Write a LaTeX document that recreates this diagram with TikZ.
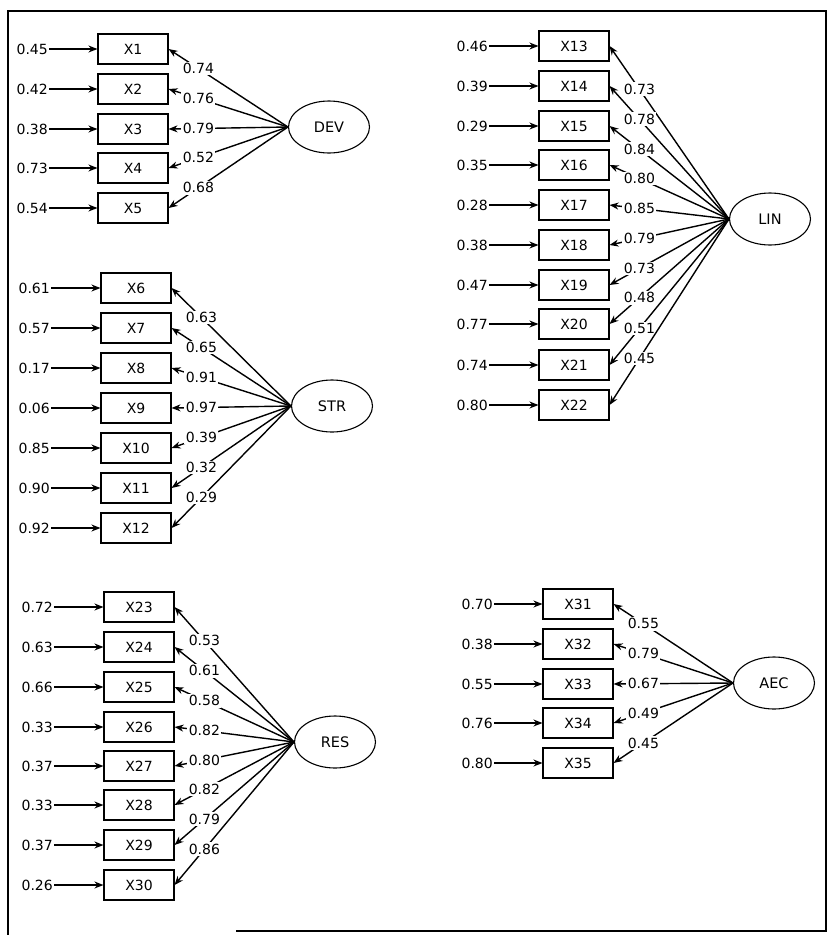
\documentclass[tikz,border=0pt]{standalone}
\usepackage{fontspec}
\setmainfont{DejaVu Sans}
\usetikzlibrary{arrows.meta,shapes.geometric}
\begin{document}
\begin{tikzpicture}[x=1pt,y=-1pt,
 obs/.style={draw, line width=1.1pt, minimum width=70pt, minimum height=30pt, inner sep=0pt, font=\fontsize{14}{16}\selectfont},
 lat/.style={draw, ellipse, line width=1.1pt, minimum width=81pt, minimum height=52pt, inner sep=0pt, font=\fontsize{14.5}{16}\selectfont},
 err/.style={inner sep=1pt, font=\fontsize{14}{16}\selectfont},
 arr/.style={-{Stealth[length=9pt,width=7pt]}, line width=1.4pt},
 load/.style={fill=white, inner sep=1.5pt, font=\fontsize{14}{16}\selectfont}]
\useasboundingbox (0,0) rectangle (833,935);
\draw[line width=2.2pt] (236,931) -- (826,931) -- (826,11) -- (8,11) -- (8,935);

% DEV
\node[lat] (DEV) at (329,127) {DEV};
\foreach \n/\y/\e/\l in {1/49/0.45/0.74,2/89/0.42/0.76,3/129/0.38/0.79,4/168/0.73/0.52,5/208/0.54/0.68}{
 \node[obs] (x\n) at (133,\y) {X\n};
 \node[err, anchor=east] (e\n) at (49,\y) {\e};
 \draw[arr] (e\n) -- (x\n);
 \draw[arr] (DEV.west) -- node[load,pos=0.75]{\l} (x\n.east);
}

% STR
\node[lat] (STR) at (332,406) {STR};
\foreach \n/\y/\e/\l in {6/288/0.61/0.63,7/328/0.57/0.65,8/368/0.17/0.91,9/408/0.06/0.97,10/448/0.85/0.39,11/488/0.90/0.32,12/528/0.92/0.29}{
 \node[obs] (x\n) at (136,\y) {X\n};
 \node[err, anchor=east] (e\n) at (51,\y) {\e};
 \draw[arr] (e\n) -- (x\n);
 \draw[arr] (STR.west) -- node[load,pos=0.75]{\l} (x\n.east);
}

% RES
\node[lat] (RES) at (335,742) {RES};
\foreach \n/\y/\e/\l in {23/607/0.72/0.53,24/647/0.63/0.61,25/687/0.66/0.58,26/727/0.33/0.82,27/766/0.37/0.80,28/805/0.33/0.82,29/845/0.37/0.79,30/885/0.26/0.86}{
 \node[obs] (x\n) at (139,\y) {X\n};
 \node[err, anchor=east] (e\n) at (54,\y) {\e};
 \draw[arr] (e\n) -- (x\n);
 \draw[arr] (RES.west) -- node[load,pos=0.75]{\l} (x\n.east);
}

% LIN
\node[lat] (LIN) at (770,219) {LIN};
\foreach \n/\y/\e/\l in {13/46/0.46/0.73,14/86/0.39/0.78,15/126/0.29/0.84,16/165/0.35/0.80,17/205/0.28/0.85,18/245/0.38/0.79,19/285/0.47/0.73,20/324/0.77/0.48,21/365/0.74/0.51,22/405/0.80/0.45}{
 \node[obs] (x\n) at (574,\y) {X\n};
 \node[err, anchor=east] (e\n) at (489,\y) {\e};
 \draw[arr] (e\n) -- (x\n);
 \draw[arr] (LIN.west) -- node[load,pos=0.75]{\l} (x\n.east);
}

% AEC
\node[lat] (AEC) at (774,683) {AEC};
\foreach \n/\y/\e/\l in {31/604/0.70/0.55,32/644/0.38/0.79,33/684/0.55/0.67,34/723/0.76/0.49,35/763/0.80/0.45}{
 \node[obs] (x\n) at (578,\y) {X\n};
 \node[err, anchor=east] (e\n) at (494,\y) {\e};
 \draw[arr] (e\n) -- (x\n);
 \draw[arr] (AEC.west) -- node[load,pos=0.75]{\l} (x\n.east);
}
\end{tikzpicture}
\end{document}
